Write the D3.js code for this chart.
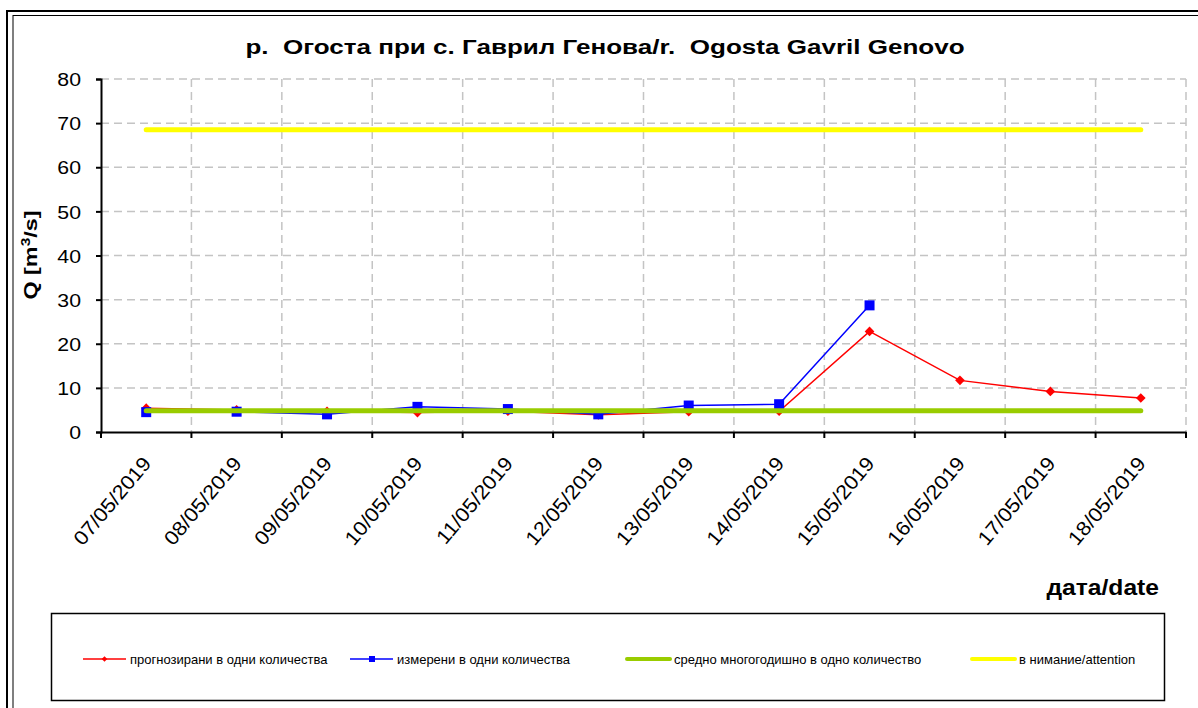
<!DOCTYPE html>
<html>
<head>
<meta charset="utf-8">
<script src="https://cdn.jsdelivr.net/npm/d3@7"></script>
<style>
  body { margin: 0; background: #fff; }
  svg { font-family: Arial, "Liberation Sans", sans-serif; }
</style>
</head>
<body>
<div id="chart"></div>
<script>
// dates on the x axis, discharge Q on the y axis
var dates = ["07/05/2019", "08/05/2019", "09/05/2019", "10/05/2019", "11/05/2019", "12/05/2019",
             "13/05/2019", "14/05/2019", "15/05/2019", "16/05/2019", "17/05/2019", "18/05/2019"]
var forecast = [5.4, 5.0, 4.7, 4.4, 4.7, 3.9, 4.6, 4.7, 22.8, 11.7, 9.2, 7.7]
var measured = [4.5, 4.6, 4.0, 5.7, 5.2, 4.0, 6.0, 6.3, 28.7, null, null, null]
var meanFlow = [4.8, 4.8, 4.8, 4.8, 4.8, 4.8, 4.8, 4.8, 4.8, 4.8, 4.8, 4.8]
var attention = [68.5, 68.5, 68.5, 68.5, 68.5, 68.5, 68.5, 68.5, 68.5, 68.5, 68.5, 68.5]
var yTicks = [0, 10, 20, 30, 40, 50, 60, 70, 80]
var legendNames = ["прогнозирани в одни количества", "измерени в одни количества",
                   "средно многогодишно в одно количество", "в нимание/attention"]

var W = 1198, H = 708
var margin = {top: 79, left: 101, right: 12, bottom: 276}
var width = W - margin.left - margin.right   // 1085
var height = H - margin.top - margin.bottom  // 353

var root = d3.select("#chart").append("svg")
    .attr("width", W)
    .attr("height", H)

// double outer frame
root.append("rect").attr("x", 7).attr("y", 11).attr("width", W + 10).attr("height", H + 10)
    .attr("fill", "none").attr("stroke", "#000").attr("stroke-width", 2)
root.append("rect").attr("x", 13).attr("y", 15.5).attr("width", W + 10).attr("height", H + 10)
    .attr("fill", "none").attr("stroke", "#000").attr("stroke-width", 1)

// the original text is wide, so stretch it a bit along its baseline
root.append("text")
    .attr("transform", "translate(605,54) scale(1.24,1)")
    .attr("text-anchor", "middle")
    .style("font-size", "21px").style("font-weight", "bold")
    .style("white-space", "pre")
    .text("р.  Огоста при с. Гаврил Генова/r.  Ogosta Gavril Genovo")

var svg = root.append("g")
    .attr("transform", "translate(" + margin.left + "," + margin.top + ")")

var x = d3.scaleBand().domain(dates).range([0, width])
var y = d3.scaleLinear().domain([0, 80]).range([height, 0])
var cx = function (d) { return x(d) + x.bandwidth() / 2 }

// grid
svg.append("g").selectAll("line").data(yTicks.slice(1)).enter().append("line")
    .attr("x1", 0).attr("x2", width)
    .attr("y1", function (d) { return y(d) }).attr("y2", function (d) { return y(d) })
    .attr("stroke", "#c4c4c4").attr("stroke-width", 1.5).attr("stroke-dasharray", "8,5")
var vlines = dates.slice(1).map(function (d) { return x(d) }).concat([width])
svg.append("g").selectAll("line").data(vlines).enter().append("line")
    .attr("x1", function (d) { return d }).attr("x2", function (d) { return d })
    .attr("y1", 0).attr("y2", height)
    .attr("stroke", "#c4c4c4").attr("stroke-width", 1.5).attr("stroke-dasharray", "8,5")

// axes
var yAxis = svg.append("g")
    .call(d3.axisLeft(y).tickValues(yTicks).tickSize(5).tickPadding(0).tickFormat(""))
yAxis.select(".domain").attr("stroke-width", 2)
yAxis.selectAll(".tick line").attr("stroke-width", 2)
yAxis.selectAll(".tick").append("text")
    .attr("transform", "translate(-20,0) scale(1.12,1)")
    .attr("text-anchor", "end")
    .attr("dy", "0.35em")
    .attr("fill", "#000")
    .style("font-size", "19px")
    .style("font-family", "Arial, 'Liberation Sans', sans-serif")
    .text(function (d) { return d })

var xAxis = svg.append("g").attr("transform", "translate(0," + height + ")")
    .call(d3.axisBottom(x).tickSize(0).tickFormat(""))
xAxis.select(".domain").attr("stroke-width", 2)
xAxis.selectAll(".tick").remove()
svg.append("g").selectAll("line").data([0].concat(vlines)).enter().append("line")
    .attr("x1", function (d) { return d }).attr("x2", function (d) { return d })
    .attr("y1", height).attr("y2", height + 6)
    .attr("stroke", "#000").attr("stroke-width", 2)

svg.append("g").selectAll("text").data(dates).enter().append("text")
    .attr("transform", function (d) { return "translate(" + (cx(d) + 6) + "," + (height + 32) + ") rotate(-50) scale(1.08,1)" })
    .attr("text-anchor", "end")
    .style("font-size", "20px")
    .text(function (d) { return d })

// axis titles
root.append("text")
    .attr("transform", "translate(37,255) rotate(-90) scale(1.3,1)")
    .attr("text-anchor", "middle")
    .style("font-size", "18px").style("font-weight", "bold")
    .html("Q [m<tspan dy='-7' style='font-size:12px'>3</tspan><tspan dy='7'>/s]</tspan>")
root.append("text")
    .attr("transform", "translate(1159,595) scale(1.12,1)")
    .attr("text-anchor", "end")
    .style("font-size", "22px").style("font-weight", "bold")
    .text("дата/date")

// series
var idx = d3.range(dates.length)
function line(values) {
    return d3.line()
        .defined(function (i) { return values[i] != null })
        .x(function (i) { return cx(dates[i]) })
        .y(function (i) { return y(values[i]) })(idx)
}
svg.append("path").attr("d", line(attention)).attr("fill", "none")
    .attr("stroke", "#ffff00").attr("stroke-width", 5).attr("stroke-linecap", "round")
svg.append("path").attr("d", line(forecast)).attr("fill", "none")
    .attr("stroke", "#ff0000").attr("stroke-width", 1.5)
svg.append("path").attr("d", line(measured)).attr("fill", "none")
    .attr("stroke", "#0000ff").attr("stroke-width", 1.5)

var diamond = d3.symbol().type(d3.symbolDiamond2).size(60)
svg.append("g").selectAll("path").data(idx).enter().append("path")
    .attr("d", diamond)
    .attr("transform", function (i) { return "translate(" + cx(dates[i]) + "," + y(forecast[i]) + ")" })
    .attr("fill", "#ff0000")
svg.append("g").selectAll("rect").data(idx.filter(function (i) { return measured[i] != null })).enter().append("rect")
    .attr("x", function (i) { return cx(dates[i]) - 5 })
    .attr("y", function (i) { return y(measured[i]) - 5 })
    .attr("width", 10).attr("height", 10)
    .attr("fill", "#0000ff")

svg.append("path").attr("d", line(meanFlow)).attr("fill", "none")
    .attr("stroke", "#99cc00").attr("stroke-width", 5).attr("stroke-linecap", "round")

// legend
var lg = root.append("g")
lg.append("rect").attr("x", 51.5).attr("y", 613.5).attr("width", 1113).attr("height", 87)
    .attr("fill", "none").attr("stroke", "#000").attr("stroke-width", 1.5)
var legendX = [83, 350, 627, 972]
var legendColors = ["#ff0000", "#0000ff", "#99cc00", "#ffff00"]
var ly = 659
legendNames.forEach(function (name, i) {
    var g = lg.append("g")
    var thick = i >= 2
    g.append("line")
        .attr("x1", legendX[i]).attr("x2", legendX[i] + 43)
        .attr("y1", ly).attr("y2", ly)
        .attr("stroke", legendColors[i])
        .attr("stroke-width", thick ? 4 : 1.5)
        .attr("stroke-linecap", thick ? "round" : "butt")
    if (i == 0) {
        g.append("path").attr("d", d3.symbol().type(d3.symbolDiamond2).size(20))
            .attr("transform", "translate(" + (legendX[i] + 21.5) + "," + ly + ")")
            .attr("fill", legendColors[i])
    } else if (i == 1) {
        g.append("rect").attr("x", legendX[i] + 19).attr("y", ly - 3)
            .attr("width", 6).attr("height", 6).attr("fill", legendColors[i])
    }
    g.append("text")
        .attr("x", legendX[i] + 47).attr("y", ly)
        .attr("dy", "0.35em")
        .style("font-size", "13px")
        .text(name)
})
</script>
</body>
</html>
